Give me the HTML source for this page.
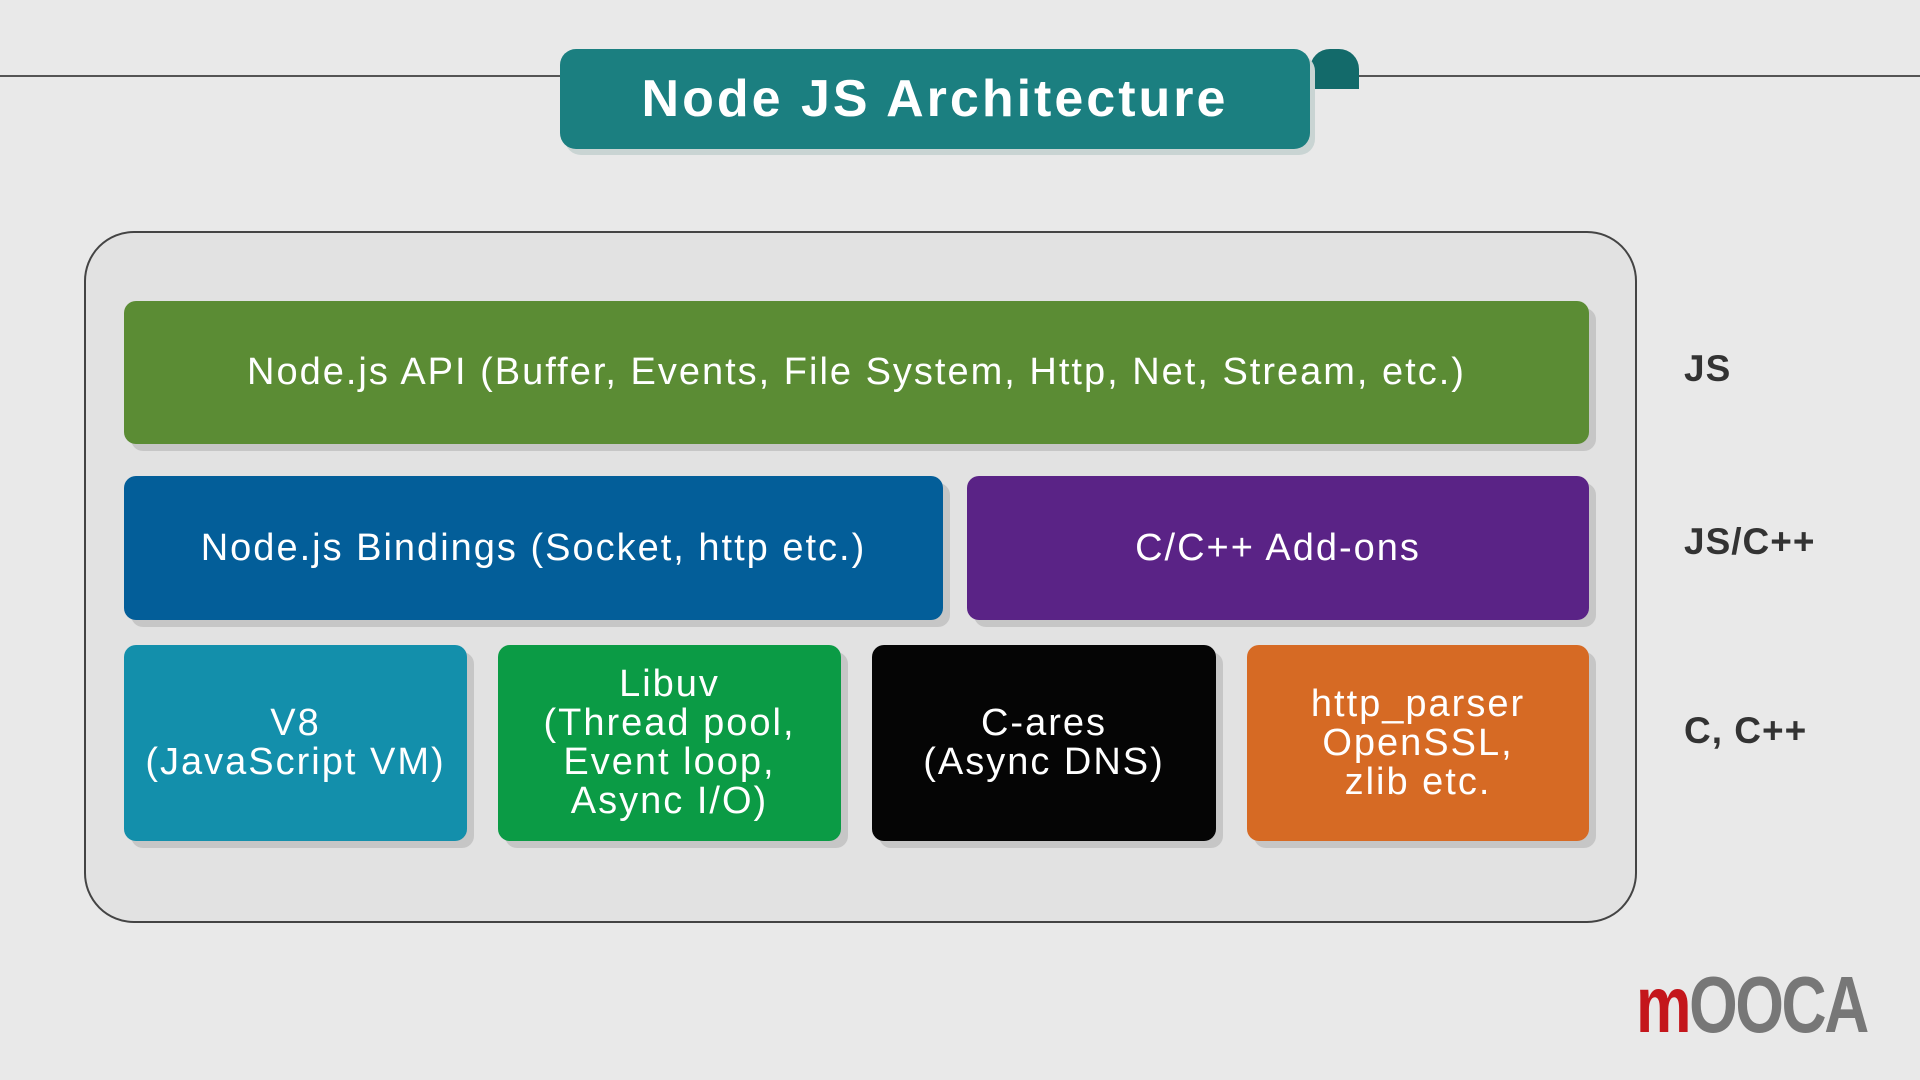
<!DOCTYPE html>
<html><head><meta charset="utf-8"><style>
body{margin:0;width:1920px;height:1080px;background:#e9e9e9;position:relative;overflow:hidden;font-family:"Liberation Sans","DejaVu Sans",sans-serif}
.abs{position:absolute}
.box{position:absolute;color:#fff;display:flex;align-items:center;justify-content:center;text-align:center;border-radius:12px;font-size:38px;letter-spacing:2px;line-height:39px;box-shadow:7px 7px 0 rgba(0,0,0,0.12)}
.lbl{position:absolute;font-weight:bold;font-size:37px;color:#333;letter-spacing:1px}
</style></head><body>
<div class="abs" style="left:0;top:75px;width:1920px;height:2px;background:#555"></div>
<div class="abs" style="left:1310px;top:49px;width:49px;height:40px;background:#136a6a;border-radius:20px 20px 0 0"></div>
<div class="abs" style="left:565px;top:55px;width:750px;height:100px;background:#c9d4d3;border-radius:16px"></div>
<div class="abs" style="left:560px;top:49px;width:750px;height:100px;background:#1b7f80;border-radius:16px;color:#fff;font-weight:bold;font-size:52px;letter-spacing:3px;display:flex;align-items:center;justify-content:center">Node JS Architecture</div>
<div class="abs" style="left:84px;top:231px;width:1549px;height:688px;border:2px solid #444;border-radius:50px;background:#e2e2e2"></div>
<div class="box" style="left:124px;top:301px;width:1465px;height:143px;background:#5b8c34">Node.js API (Buffer, Events, File System, Http, Net, Stream, etc.)</div>
<div class="box" style="left:124px;top:476px;width:819px;height:144px;background:#035e99">Node.js Bindings (Socket, http etc.)</div>
<div class="box" style="left:967px;top:476px;width:622px;height:144px;background:#5a2386">C/C++ Add-ons</div>
<div class="box" style="left:124px;top:645px;width:343px;height:196px;background:#138fab">V8<br>(JavaScript VM)</div>
<div class="box" style="left:498px;top:645px;width:343px;height:196px;background:#0b9b45">Libuv<br>(Thread pool,<br>Event loop,<br>Async I/O)</div>
<div class="box" style="left:872px;top:645px;width:344px;height:196px;background:#050505">C-ares<br>(Async DNS)</div>
<div class="box" style="left:1247px;top:645px;width:342px;height:196px;background:#d66a24">http_parser<br>OpenSSL,<br>zlib etc.</div>
<div class="lbl" style="left:1684px;top:348px">JS</div>
<div class="lbl" style="left:1684px;top:521px">JS/C++</div>
<div class="lbl" style="left:1684px;top:710px">C, C++</div>
<div class="abs" style="left:1636px;top:962px;font-size:80px;font-weight:bold;letter-spacing:-3px;line-height:86px;transform:scaleX(0.78);transform-origin:left top;white-space:nowrap"><span style="color:#c4161c">m</span><span style="color:#777">OOCA</span></div>
</body></html>
